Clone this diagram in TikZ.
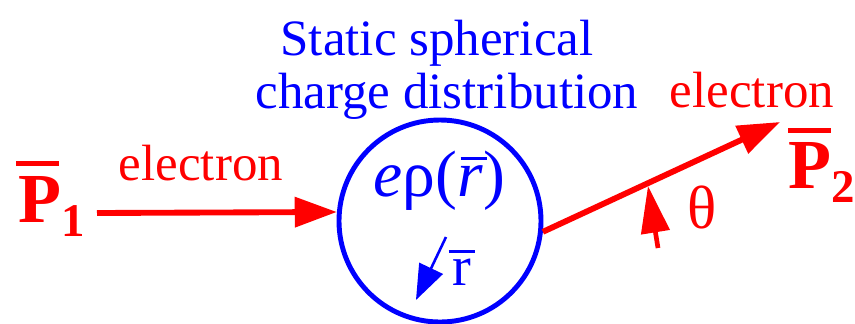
\documentclass[tikz,border=0pt]{standalone}
\usepackage{fontspec}
\setmainfont{Liberation Serif}
\newfontfamily\figfont{Liberation Serif}
\usetikzlibrary{arrows.meta}

\begin{document}
\begin{tikzpicture}[x=0.03cm, y=-0.03cm,
    lbl/.style={font=\figfont\fontsize{43.5}{45}\selectfont, inner sep=0pt, anchor=base},
    mom/.style={red, font=\figfont\bfseries\fontsize{60}{62}\selectfont, inner sep=0pt, anchor=base west},
    momsub/.style={red, font=\figfont\bfseries\fontsize{40}{42}\selectfont, inner sep=0pt, anchor=base west},
    bar/.style={line width=#1},
    beam/.style={red, line width=5pt, -{Triangle[length=36pt, width=25pt]}},
    rvec/.style={blue, line width=2.2pt, -{Triangle[length=30pt, width=22pt]}}]
  \useasboundingbox (0,0) rectangle (855,323);

  % charge distribution
  \node[circle, draw=blue, line width=4.2pt, minimum size=6.06cm, inner sep=0pt] (dist) at (440,221) {};
  \node[lbl, blue] (title1) at (437,55) {Static spherical};
  \node[lbl, blue] (title2) at (447,108) {charge distribution};
  \node[lbl, blue, anchor=base west, font=\figfont\fontsize{56}{58}\selectfont] (rhoL) at (373,196) {\textit{e}ρ(};
  \node[lbl, blue, anchor=base west, font=\figfont\itshape\fontsize{56}{58}\selectfont] (rhoR) at (rhoL.base east) {r};
  \node[lbl, blue, anchor=base west, font=\figfont\fontsize{56}{58}\selectfont] (rhoP) at (rhoR.base east) {)};
  \draw[blue, bar=2.6pt] ([xshift=0.1cm, yshift=0.2cm]rhoR.north west) -- ([xshift=0.12cm, yshift=0.2cm]rhoR.north east);
  \coordinate (rfrom) at (446,237);
  \coordinate (rto) at (416,300);
  \draw[rvec] (rfrom) -- (rto);
  \node[lbl, blue, anchor=base west, font=\figfont\fontsize{48}{50}\selectfont] (rlbl) at (452,285) {r};
  \draw[blue, bar=2.6pt] ([xshift=-0.1cm, yshift=0.2cm]rlbl.north west) -- ([xshift=0.1cm, yshift=0.2cm]rlbl.north east);

  % incoming electron
  \node[mom] (P1) at (18,222) {P};
  \node[momsub, yshift=-0.42cm] (P1sub) at (P1.base east) {1};
  \draw[red, bar=4.5pt] ([xshift=-0.06cm, yshift=0.36cm]P1.north west) -- ([xshift=-0.06cm, yshift=0.36cm]P1.north east);
  \coordinate (in) at (97,213);
  \draw[beam] (in) -- (dist.175);
  \node[lbl, red] (e1) at (201,180) {electron};

  % outgoing electron
  \coordinate (out) at (780,122);
  \draw[beam] (dist.-6) -- (out);
  \node[lbl, red] (e2) at (752,107) {electron};
  \node[mom] (P2) at (788,188) {P};
  \node[momsub, yshift=-0.42cm] (P2sub) at (P2.base east) {2};
  \draw[red, bar=4.5pt] ([yshift=0.33cm]P2.north west) -- ([yshift=0.33cm]P2.north east);

  % scattering angle
  \coordinate (afrom) at (658,248);
  \coordinate (ato) at (648,186);
  \draw[red, line width=4pt, -{Triangle[length=40pt, width=24pt]}] (afrom) -- (ato);
  \node[red, font=\figfont\fontsize{52}{54}\selectfont, inner sep=0pt] (theta) at (702,207) {θ};
\end{tikzpicture}
\end{document}
